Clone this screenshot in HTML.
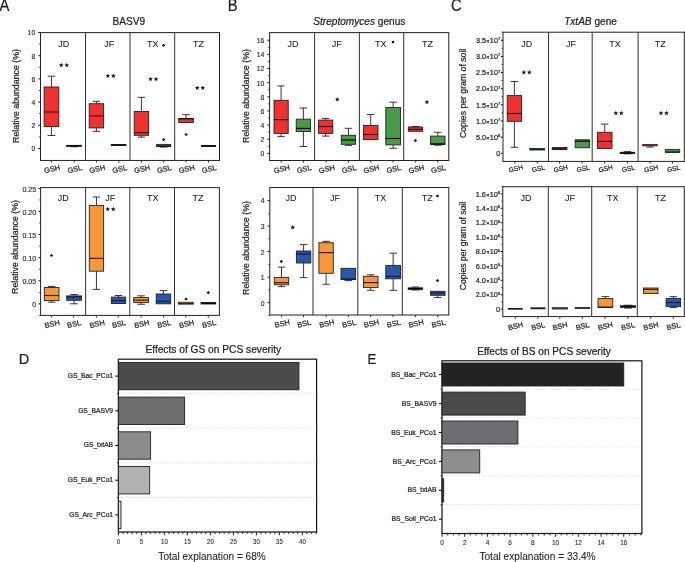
<!DOCTYPE html><html><head><meta charset="utf-8"><style>html,body{margin:0;padding:0;background:#fff}svg{display:block;will-change:transform}</style></head><body><svg width="685" height="562" viewBox="0 0 685 562">
<style>text{font-family:"Liberation Sans",sans-serif;fill:#222;stroke:#222;stroke-width:0.22}.w{stroke:#222;stroke-width:0.9}.b{stroke:#222;stroke-width:0.9}.m{stroke-width:1.15}.st{fill:#222}.fl{stroke-width:0.05;fill:#1a1a1a}.lt{stroke-width:0.08;fill:#1e1e1e}.tk{stroke-width:0.12}</style>
<rect width="685" height="562" fill="#fff"/>
<text x="0" y="0" font-size="16.5" transform="translate(-0.5,10.8) scale(0.9,1)">A</text>
<text x="0" y="0" font-size="16.5" transform="translate(227.8,10.8) scale(0.9,1)">B</text>
<text x="0" y="0" font-size="16.5" transform="translate(450.9,10.8) scale(0.9,1)">C</text>
<text x="0" y="0" font-size="14.7" transform="translate(18.8,364.0) scale(0.99,1)">D</text>
<text x="0" y="0" font-size="14.7" transform="translate(367.6,364.1) scale(0.905,1)">E</text>
<text x="128.8" y="25.2" font-size="10.1" text-anchor="middle" >BASV9</text>
<text x="359.3" y="25.2" font-size="10.1" text-anchor="middle"><tspan font-style="italic">Streptomyces</tspan> genus</text>
<text x="590.5" y="25.2" font-size="10.1" text-anchor="middle"><tspan font-style="italic">TxtAB</tspan> gene</text>
<rect x="40.5" y="32.6" width="179.0" height="127.85" fill="none" stroke="#222" stroke-width="1"/>
<line x1="85.5" y1="32.6" x2="85.5" y2="160.45" stroke="#333" stroke-width="1"/>
<line x1="130.0" y1="32.6" x2="130.0" y2="160.45" stroke="#333" stroke-width="1"/>
<line x1="174.7" y1="32.6" x2="174.7" y2="160.45" stroke="#333" stroke-width="1"/>
<line x1="38.3" y1="148.5" x2="40.5" y2="148.5" stroke="#1a1a1a" stroke-width="1"/>
<text x="0" y="0" font-size="7.7" text-anchor="end" class="tk" transform="translate(35.20,151.45) scale(0.89,1)">0</text>
<line x1="38.3" y1="125.3" x2="40.5" y2="125.3" stroke="#1a1a1a" stroke-width="1"/>
<text x="0" y="0" font-size="7.7" text-anchor="end" class="tk" transform="translate(35.20,128.25) scale(0.89,1)">2</text>
<line x1="38.3" y1="102.1" x2="40.5" y2="102.1" stroke="#1a1a1a" stroke-width="1"/>
<text x="0" y="0" font-size="7.7" text-anchor="end" class="tk" transform="translate(35.20,105.05) scale(0.89,1)">4</text>
<line x1="38.3" y1="78.9" x2="40.5" y2="78.9" stroke="#1a1a1a" stroke-width="1"/>
<text x="0" y="0" font-size="7.7" text-anchor="end" class="tk" transform="translate(35.20,81.85) scale(0.89,1)">6</text>
<line x1="38.3" y1="55.7" x2="40.5" y2="55.7" stroke="#1a1a1a" stroke-width="1"/>
<text x="0" y="0" font-size="7.7" text-anchor="end" class="tk" transform="translate(35.20,58.65) scale(0.89,1)">8</text>
<line x1="38.3" y1="32.5" x2="40.5" y2="32.5" stroke="#1a1a1a" stroke-width="1"/>
<text x="0" y="0" font-size="7.7" text-anchor="end" class="tk" transform="translate(35.20,35.45) scale(0.89,1)">10</text>
<line x1="39.1" y1="136.9" x2="40.5" y2="136.9" stroke="#222" stroke-width="0.9"/>
<line x1="39.1" y1="113.7" x2="40.5" y2="113.7" stroke="#222" stroke-width="0.9"/>
<line x1="39.1" y1="90.5" x2="40.5" y2="90.5" stroke="#222" stroke-width="0.9"/>
<line x1="39.1" y1="67.3" x2="40.5" y2="67.3" stroke="#222" stroke-width="0.9"/>
<line x1="39.1" y1="44.10000000000001" x2="40.5" y2="44.10000000000001" stroke="#222" stroke-width="0.9"/>
<text x="0" y="0" font-size="8.8" text-anchor="middle" transform="translate(18.7,96) rotate(-90)">Relative abundance (%)</text>
<line x1="51.4" y1="160.45" x2="51.4" y2="162.64999999999998" stroke="#222" stroke-width="0.9"/>
<text x="0" y="0" font-size="7.45" text-anchor="middle" transform="translate(52.699999999999996,171.54999999999998) rotate(-13)">GSH</text>
<line x1="74.1" y1="160.45" x2="74.1" y2="162.64999999999998" stroke="#222" stroke-width="0.9"/>
<text x="0" y="0" font-size="7.45" text-anchor="middle" transform="translate(75.39999999999999,171.54999999999998) rotate(-13)">GSL</text>
<line x1="96.5" y1="160.45" x2="96.5" y2="162.64999999999998" stroke="#222" stroke-width="0.9"/>
<text x="0" y="0" font-size="7.45" text-anchor="middle" transform="translate(97.8,171.54999999999998) rotate(-13)">GSH</text>
<line x1="118.9" y1="160.45" x2="118.9" y2="162.64999999999998" stroke="#222" stroke-width="0.9"/>
<text x="0" y="0" font-size="7.45" text-anchor="middle" transform="translate(120.2,171.54999999999998) rotate(-13)">GSL</text>
<line x1="141.4" y1="160.45" x2="141.4" y2="162.64999999999998" stroke="#222" stroke-width="0.9"/>
<text x="0" y="0" font-size="7.45" text-anchor="middle" transform="translate(142.70000000000002,171.54999999999998) rotate(-13)">GSH</text>
<line x1="163.6" y1="160.45" x2="163.6" y2="162.64999999999998" stroke="#222" stroke-width="0.9"/>
<text x="0" y="0" font-size="7.45" text-anchor="middle" transform="translate(164.9,171.54999999999998) rotate(-13)">GSL</text>
<line x1="186" y1="160.45" x2="186" y2="162.64999999999998" stroke="#222" stroke-width="0.9"/>
<text x="0" y="0" font-size="7.45" text-anchor="middle" transform="translate(187.3,171.54999999999998) rotate(-13)">GSH</text>
<line x1="208.5" y1="160.45" x2="208.5" y2="162.64999999999998" stroke="#222" stroke-width="0.9"/>
<text x="0" y="0" font-size="7.45" text-anchor="middle" transform="translate(209.8,171.54999999999998) rotate(-13)">GSL</text>
<text x="63.8" y="46.8" font-size="9.0" text-anchor="middle" class="fl">JD</text>
<text x="109.2" y="46.8" font-size="9.0" text-anchor="middle" class="fl">JF</text>
<text x="152.8" y="46.8" font-size="9.0" text-anchor="middle" class="fl">TX</text>
<text x="198.5" y="46.8" font-size="9.0" text-anchor="middle" class="fl">TZ</text>
<line x1="51.45" y1="76.2" x2="51.45" y2="87.0" class="w"/>
<line x1="47.63" y1="76.2" x2="55.27" y2="76.2" class="w"/>
<line x1="51.45" y1="126.5" x2="51.45" y2="135.5" class="w"/>
<line x1="47.63" y1="135.5" x2="55.27" y2="135.5" class="w"/>
<rect x="44.1" y="87.0" width="14.70" height="39.50" fill="#EE3131" class="b"/>
<line x1="44.1" y1="112.0" x2="58.8" y2="112.0" stroke="#5a0e0e" class="m"/>
<line x1="74.00" y1="146.2" x2="74.00" y2="146.8" class="w"/>
<line x1="70.10" y1="146.8" x2="77.90" y2="146.8" class="w"/>
<rect x="66.5" y="145.4" width="15.00" height="0.80" fill="#4A9A4A" class="b"/>
<line x1="66.5" y1="145.8" x2="81.5" y2="145.8" stroke="#000" class="m"/>
<line x1="96.40" y1="101.3" x2="96.40" y2="103.7" class="w"/>
<line x1="92.66" y1="101.3" x2="100.14" y2="101.3" class="w"/>
<line x1="96.40" y1="127.9" x2="96.40" y2="131.4" class="w"/>
<line x1="92.66" y1="131.4" x2="100.14" y2="131.4" class="w"/>
<rect x="89.2" y="103.7" width="14.40" height="24.20" fill="#EE3131" class="b"/>
<line x1="89.2" y1="115.9" x2="103.6" y2="115.9" stroke="#5a0e0e" class="m"/>
<rect x="111.3" y="144.6" width="14.70" height="0.90" fill="#4A9A4A" class="b"/>
<line x1="111.3" y1="145.0" x2="126.0" y2="145.0" stroke="#000" class="m"/>
<line x1="141.40" y1="97.3" x2="141.40" y2="111.5" class="w"/>
<line x1="137.66" y1="97.3" x2="145.14" y2="97.3" class="w"/>
<line x1="141.40" y1="135.3" x2="141.40" y2="137.1" class="w"/>
<line x1="137.66" y1="137.1" x2="145.14" y2="137.1" class="w"/>
<rect x="134.2" y="111.5" width="14.40" height="23.80" fill="#EE3131" class="b"/>
<line x1="134.2" y1="132.6" x2="148.6" y2="132.6" stroke="#2a0505" class="m"/>
<line x1="163.65" y1="146.3" x2="163.65" y2="147.1" class="w"/>
<line x1="159.98" y1="147.1" x2="167.32" y2="147.1" class="w"/>
<rect x="156.6" y="144.4" width="14.10" height="1.90" fill="#4A9A4A" class="b"/>
<line x1="156.6" y1="146.1" x2="170.7" y2="146.1" stroke="#000" class="m"/>
<path d="M161.90,45.3L163.6,43.70L165.30,45.3L163.6,46.90Z" fill="#111"/>
<path d="M161.90,139.6L163.6,138.00L165.30,139.6L163.6,141.20Z" fill="#111"/>
<line x1="186.05" y1="114.7" x2="186.05" y2="118.6" class="w"/>
<line x1="182.23" y1="114.7" x2="189.87" y2="114.7" class="w"/>
<rect x="178.7" y="118.6" width="14.70" height="3.90" fill="#EE3131" class="b"/>
<line x1="178.7" y1="118.8" x2="193.4" y2="118.8" stroke="#2a0505" class="m"/>
<path d="M184.40,134.5L186.1,132.90L187.80,134.5L186.1,136.10Z" fill="#111"/>
<rect x="201.4" y="145.5" width="14.20" height="0.90" fill="#4A9A4A" class="b"/>
<line x1="201.4" y1="146.0" x2="215.6" y2="146.0" stroke="#000" class="m"/>
<polygon points="61.25,62.75 61.91,64.29 63.58,64.44 62.32,65.55 62.69,67.18 61.25,66.33 59.81,67.18 60.18,65.55 58.92,64.44 60.59,64.29" fill="#1a1a1a"/>
<polygon points="66.75,62.75 67.41,64.29 69.08,64.44 67.82,65.55 68.19,67.18 66.75,66.33 65.31,67.18 65.68,65.55 64.42,64.44 66.09,64.29" fill="#1a1a1a"/>
<polygon points="107.85,73.45 108.51,74.99 110.18,75.14 108.92,76.25 109.29,77.88 107.85,77.03 106.41,77.88 106.78,76.25 105.52,75.14 107.19,74.99" fill="#1a1a1a"/>
<polygon points="113.35,73.45 114.01,74.99 115.68,75.14 114.42,76.25 114.79,77.88 113.35,77.03 111.91,77.88 112.28,76.25 111.02,75.14 112.69,74.99" fill="#1a1a1a"/>
<polygon points="150.55,76.65 151.21,78.19 152.88,78.34 151.62,79.45 151.99,81.08 150.55,80.23 149.11,81.08 149.48,79.45 148.22,78.34 149.89,78.19" fill="#1a1a1a"/>
<polygon points="156.05,76.65 156.71,78.19 158.38,78.34 157.12,79.45 157.49,81.08 156.05,80.23 154.61,81.08 154.98,79.45 153.72,78.34 155.39,78.19" fill="#1a1a1a"/>
<polygon points="197.25,85.45 197.91,86.99 199.58,87.14 198.32,88.25 198.69,89.88 197.25,89.03 195.81,89.88 196.18,88.25 194.92,87.14 196.59,86.99" fill="#1a1a1a"/>
<polygon points="202.75,85.45 203.41,86.99 205.08,87.14 203.82,88.25 204.19,89.88 202.75,89.03 201.31,89.88 201.68,88.25 200.42,87.14 202.09,86.99" fill="#1a1a1a"/>
<rect x="269.6" y="32.6" width="179.2" height="127.9" fill="none" stroke="#222" stroke-width="1"/>
<line x1="314.6" y1="32.6" x2="314.6" y2="160.5" stroke="#333" stroke-width="1"/>
<line x1="359.4" y1="32.6" x2="359.4" y2="160.5" stroke="#333" stroke-width="1"/>
<line x1="403.7" y1="32.6" x2="403.7" y2="160.5" stroke="#333" stroke-width="1"/>
<line x1="267.40000000000003" y1="153.4" x2="269.6" y2="153.4" stroke="#1a1a1a" stroke-width="1"/>
<text x="0" y="0" font-size="7.7" text-anchor="end" class="tk" transform="translate(264.30,156.35) scale(0.89,1)">0</text>
<line x1="267.40000000000003" y1="139.25" x2="269.6" y2="139.25" stroke="#1a1a1a" stroke-width="1"/>
<text x="0" y="0" font-size="7.7" text-anchor="end" class="tk" transform="translate(264.30,142.20) scale(0.89,1)">2</text>
<line x1="267.40000000000003" y1="125.10000000000001" x2="269.6" y2="125.10000000000001" stroke="#1a1a1a" stroke-width="1"/>
<text x="0" y="0" font-size="7.7" text-anchor="end" class="tk" transform="translate(264.30,128.05) scale(0.89,1)">4</text>
<line x1="267.40000000000003" y1="110.95" x2="269.6" y2="110.95" stroke="#1a1a1a" stroke-width="1"/>
<text x="0" y="0" font-size="7.7" text-anchor="end" class="tk" transform="translate(264.30,113.90) scale(0.89,1)">6</text>
<line x1="267.40000000000003" y1="96.80000000000001" x2="269.6" y2="96.80000000000001" stroke="#1a1a1a" stroke-width="1"/>
<text x="0" y="0" font-size="7.7" text-anchor="end" class="tk" transform="translate(264.30,99.75) scale(0.89,1)">8</text>
<line x1="267.40000000000003" y1="82.65" x2="269.6" y2="82.65" stroke="#1a1a1a" stroke-width="1"/>
<text x="0" y="0" font-size="7.7" text-anchor="end" class="tk" transform="translate(264.30,85.60) scale(0.89,1)">10</text>
<line x1="267.40000000000003" y1="68.5" x2="269.6" y2="68.5" stroke="#1a1a1a" stroke-width="1"/>
<text x="0" y="0" font-size="7.7" text-anchor="end" class="tk" transform="translate(264.30,71.45) scale(0.89,1)">12</text>
<line x1="267.40000000000003" y1="54.35000000000001" x2="269.6" y2="54.35000000000001" stroke="#1a1a1a" stroke-width="1"/>
<text x="0" y="0" font-size="7.7" text-anchor="end" class="tk" transform="translate(264.30,57.30) scale(0.89,1)">14</text>
<line x1="267.40000000000003" y1="40.2" x2="269.6" y2="40.2" stroke="#1a1a1a" stroke-width="1"/>
<text x="0" y="0" font-size="7.7" text-anchor="end" class="tk" transform="translate(264.30,43.15) scale(0.89,1)">16</text>
<line x1="268.20000000000005" y1="146.32500000000002" x2="269.6" y2="146.32500000000002" stroke="#222" stroke-width="0.9"/>
<line x1="268.20000000000005" y1="132.175" x2="269.6" y2="132.175" stroke="#222" stroke-width="0.9"/>
<line x1="268.20000000000005" y1="118.025" x2="269.6" y2="118.025" stroke="#222" stroke-width="0.9"/>
<line x1="268.20000000000005" y1="103.875" x2="269.6" y2="103.875" stroke="#222" stroke-width="0.9"/>
<line x1="268.20000000000005" y1="89.725" x2="269.6" y2="89.725" stroke="#222" stroke-width="0.9"/>
<line x1="268.20000000000005" y1="75.575" x2="269.6" y2="75.575" stroke="#222" stroke-width="0.9"/>
<line x1="268.20000000000005" y1="61.425" x2="269.6" y2="61.425" stroke="#222" stroke-width="0.9"/>
<line x1="268.20000000000005" y1="47.275000000000006" x2="269.6" y2="47.275000000000006" stroke="#222" stroke-width="0.9"/>
<text x="0" y="0" font-size="8.8" text-anchor="middle" transform="translate(248.9,96) rotate(-90)">Relative abundance (%)</text>
<line x1="281.1" y1="160.5" x2="281.1" y2="162.7" stroke="#222" stroke-width="0.9"/>
<text x="0" y="0" font-size="7.45" text-anchor="middle" transform="translate(282.40000000000003,171.6) rotate(-13)">GSH</text>
<line x1="303.4" y1="160.5" x2="303.4" y2="162.7" stroke="#222" stroke-width="0.9"/>
<text x="0" y="0" font-size="7.45" text-anchor="middle" transform="translate(304.7,171.6) rotate(-13)">GSL</text>
<line x1="326.1" y1="160.5" x2="326.1" y2="162.7" stroke="#222" stroke-width="0.9"/>
<text x="0" y="0" font-size="7.45" text-anchor="middle" transform="translate(327.40000000000003,171.6) rotate(-13)">GSH</text>
<line x1="348.4" y1="160.5" x2="348.4" y2="162.7" stroke="#222" stroke-width="0.9"/>
<text x="0" y="0" font-size="7.45" text-anchor="middle" transform="translate(349.7,171.6) rotate(-13)">GSL</text>
<line x1="370.7" y1="160.5" x2="370.7" y2="162.7" stroke="#222" stroke-width="0.9"/>
<text x="0" y="0" font-size="7.45" text-anchor="middle" transform="translate(372.0,171.6) rotate(-13)">GSH</text>
<line x1="393.1" y1="160.5" x2="393.1" y2="162.7" stroke="#222" stroke-width="0.9"/>
<text x="0" y="0" font-size="7.45" text-anchor="middle" transform="translate(394.40000000000003,171.6) rotate(-13)">GSL</text>
<line x1="415.7" y1="160.5" x2="415.7" y2="162.7" stroke="#222" stroke-width="0.9"/>
<text x="0" y="0" font-size="7.45" text-anchor="middle" transform="translate(417.0,171.6) rotate(-13)">GSH</text>
<line x1="437.8" y1="160.5" x2="437.8" y2="162.7" stroke="#222" stroke-width="0.9"/>
<text x="0" y="0" font-size="7.45" text-anchor="middle" transform="translate(439.1,171.6) rotate(-13)">GSL</text>
<text x="293" y="46.8" font-size="9.0" text-anchor="middle" class="fl">JD</text>
<text x="336.8" y="46.8" font-size="9.0" text-anchor="middle" class="fl">JF</text>
<text x="380.7" y="46.8" font-size="9.0" text-anchor="middle" class="fl">TX</text>
<text x="427.4" y="46.8" font-size="9.0" text-anchor="middle" class="fl">TZ</text>
<line x1="281.10" y1="85.9" x2="281.10" y2="100.3" class="w"/>
<line x1="277.41" y1="85.9" x2="284.79" y2="85.9" class="w"/>
<line x1="281.10" y1="133.4" x2="281.10" y2="136.6" class="w"/>
<line x1="277.41" y1="136.6" x2="284.79" y2="136.6" class="w"/>
<rect x="274" y="100.3" width="14.20" height="33.10" fill="#EE3131" class="b"/>
<line x1="274" y1="119.6" x2="288.2" y2="119.6" stroke="#1a0505" class="m"/>
<line x1="303.40" y1="108" x2="303.40" y2="119.2" class="w"/>
<line x1="299.66" y1="108" x2="307.14" y2="108" class="w"/>
<line x1="303.40" y1="131.5" x2="303.40" y2="146.5" class="w"/>
<line x1="299.66" y1="146.5" x2="307.14" y2="146.5" class="w"/>
<rect x="296.2" y="119.2" width="14.40" height="12.30" fill="#4A9A4A" class="b"/>
<line x1="296.2" y1="128.4" x2="310.6" y2="128.4" stroke="#000" class="m"/>
<line x1="325.70" y1="118.4" x2="325.70" y2="120.1" class="w"/>
<line x1="322.01" y1="118.4" x2="329.39" y2="118.4" class="w"/>
<line x1="325.70" y1="133.4" x2="325.70" y2="136.1" class="w"/>
<line x1="322.01" y1="136.1" x2="329.39" y2="136.1" class="w"/>
<rect x="318.6" y="120.1" width="14.20" height="13.30" fill="#EE3131" class="b"/>
<line x1="318.6" y1="126.5" x2="332.8" y2="126.5" stroke="#1a0505" class="m"/>
<line x1="348.40" y1="128.3" x2="348.40" y2="135.3" class="w"/>
<line x1="344.71" y1="128.3" x2="352.09" y2="128.3" class="w"/>
<line x1="348.40" y1="144.3" x2="348.40" y2="145.4" class="w"/>
<line x1="344.71" y1="145.4" x2="352.09" y2="145.4" class="w"/>
<rect x="341.3" y="135.3" width="14.20" height="9.00" fill="#4A9A4A" class="b"/>
<line x1="341.3" y1="140" x2="355.5" y2="140" stroke="#000" class="m"/>
<line x1="370.70" y1="114.5" x2="370.70" y2="125.4" class="w"/>
<line x1="366.90" y1="114.5" x2="374.50" y2="114.5" class="w"/>
<rect x="363.4" y="125.4" width="14.60" height="14.20" fill="#EE3131" class="b"/>
<line x1="363.4" y1="134.5" x2="378" y2="134.5" stroke="#1a0505" class="m"/>
<line x1="393.15" y1="102.2" x2="393.15" y2="107.5" class="w"/>
<line x1="389.33" y1="102.2" x2="396.97" y2="102.2" class="w"/>
<line x1="393.15" y1="144.9" x2="393.15" y2="148.3" class="w"/>
<line x1="389.33" y1="148.3" x2="396.97" y2="148.3" class="w"/>
<rect x="385.8" y="107.5" width="14.70" height="37.40" fill="#4A9A4A" class="b"/>
<line x1="385.8" y1="138.5" x2="400.5" y2="138.5" stroke="#000" class="m"/>
<circle cx="393.0" cy="42.0" r="1.3" fill="#000"/>
<line x1="415.50" y1="126.5" x2="415.50" y2="127" class="w"/>
<line x1="411.76" y1="126.5" x2="419.24" y2="126.5" class="w"/>
<rect x="408.3" y="127" width="14.40" height="4.30" fill="#EE3131" class="b"/>
<line x1="408.3" y1="129.3" x2="422.7" y2="129.3" stroke="#3a0a0a" class="m"/>
<path d="M413.70,140.6L415.4,139.00L417.10,140.6L415.4,142.20Z" fill="#111"/>
<line x1="437.80" y1="132.3" x2="437.80" y2="136.1" class="w"/>
<line x1="434.06" y1="132.3" x2="441.54" y2="132.3" class="w"/>
<line x1="437.80" y1="144.4" x2="437.80" y2="145.2" class="w"/>
<line x1="434.06" y1="145.2" x2="441.54" y2="145.2" class="w"/>
<rect x="430.6" y="136.1" width="14.40" height="8.30" fill="#4A9A4A" class="b"/>
<line x1="430.6" y1="143.9" x2="445" y2="143.9" stroke="#000" class="m"/>
<polygon points="337.30,96.95 337.96,98.49 339.63,98.64 338.37,99.75 338.74,101.38 337.30,100.53 335.86,101.38 336.23,99.75 334.97,98.64 336.64,98.49" fill="#1a1a1a"/>
<polygon points="426.90,99.65 427.56,101.19 429.23,101.34 427.97,102.45 428.34,104.08 426.90,103.23 425.46,104.08 425.83,102.45 424.57,101.34 426.24,101.19" fill="#1a1a1a"/>
<rect x="503" y="32.2" width="181.29999999999995" height="129.2" fill="none" stroke="#222" stroke-width="1"/>
<line x1="548.5" y1="32.2" x2="548.5" y2="161.4" stroke="#333" stroke-width="1"/>
<line x1="592.2" y1="32.2" x2="592.2" y2="161.4" stroke="#333" stroke-width="1"/>
<line x1="638.1" y1="32.2" x2="638.1" y2="161.4" stroke="#333" stroke-width="1"/>
<line x1="500.8" y1="153.3" x2="503" y2="153.3" stroke="#1a1a1a" stroke-width="1"/>
<text x="500.3" y="156.0" font-size="7.3" text-anchor="end">0</text>
<line x1="500.8" y1="137.15" x2="503" y2="137.15" stroke="#1a1a1a" stroke-width="1"/>
<text x="500.3" y="139.85" font-size="7.3" text-anchor="end">5.0<tspan font-size="5.6" dx="0.2">×</tspan><tspan dx="0.2">10</tspan><tspan font-size="4.2" dy="-2.7">6</tspan></text>
<line x1="500.8" y1="121.00000000000001" x2="503" y2="121.00000000000001" stroke="#1a1a1a" stroke-width="1"/>
<text x="500.3" y="123.70000000000002" font-size="7.3" text-anchor="end">1.0<tspan font-size="5.6" dx="0.2">×</tspan><tspan dx="0.2">10</tspan><tspan font-size="4.2" dy="-2.7">7</tspan></text>
<line x1="500.8" y1="104.85000000000002" x2="503" y2="104.85000000000002" stroke="#1a1a1a" stroke-width="1"/>
<text x="500.3" y="107.55000000000003" font-size="7.3" text-anchor="end">1.5<tspan font-size="5.6" dx="0.2">×</tspan><tspan dx="0.2">10</tspan><tspan font-size="4.2" dy="-2.7">7</tspan></text>
<line x1="500.8" y1="88.70000000000002" x2="503" y2="88.70000000000002" stroke="#1a1a1a" stroke-width="1"/>
<text x="500.3" y="91.40000000000002" font-size="7.3" text-anchor="end">2.0<tspan font-size="5.6" dx="0.2">×</tspan><tspan dx="0.2">10</tspan><tspan font-size="4.2" dy="-2.7">7</tspan></text>
<line x1="500.8" y1="72.55000000000001" x2="503" y2="72.55000000000001" stroke="#1a1a1a" stroke-width="1"/>
<text x="500.3" y="75.25000000000001" font-size="7.3" text-anchor="end">2.5<tspan font-size="5.6" dx="0.2">×</tspan><tspan dx="0.2">10</tspan><tspan font-size="4.2" dy="-2.7">7</tspan></text>
<line x1="500.8" y1="56.40000000000002" x2="503" y2="56.40000000000002" stroke="#1a1a1a" stroke-width="1"/>
<text x="500.3" y="59.10000000000002" font-size="7.3" text-anchor="end">3.0<tspan font-size="5.6" dx="0.2">×</tspan><tspan dx="0.2">10</tspan><tspan font-size="4.2" dy="-2.7">7</tspan></text>
<line x1="500.8" y1="40.25000000000003" x2="503" y2="40.25000000000003" stroke="#1a1a1a" stroke-width="1"/>
<text x="500.3" y="42.95000000000003" font-size="7.3" text-anchor="end">3.5<tspan font-size="5.6" dx="0.2">×</tspan><tspan dx="0.2">10</tspan><tspan font-size="4.2" dy="-2.7">7</tspan></text>
<line x1="501.6" y1="129.08" x2="503" y2="129.08" stroke="#222" stroke-width="0.9"/>
<line x1="501.6" y1="112.93" x2="503" y2="112.93" stroke="#222" stroke-width="0.9"/>
<line x1="501.6" y1="96.78000000000003" x2="503" y2="96.78000000000003" stroke="#222" stroke-width="0.9"/>
<line x1="501.6" y1="80.63000000000002" x2="503" y2="80.63000000000002" stroke="#222" stroke-width="0.9"/>
<line x1="501.6" y1="64.48000000000002" x2="503" y2="64.48000000000002" stroke="#222" stroke-width="0.9"/>
<line x1="501.6" y1="48.33000000000002" x2="503" y2="48.33000000000002" stroke="#222" stroke-width="0.9"/>
<line x1="501.6" y1="32.18000000000003" x2="503" y2="32.18000000000003" stroke="#222" stroke-width="0.9"/>
<text x="0" y="0" font-size="8.7" text-anchor="middle" transform="translate(466.4,93.4) rotate(-90)">Copies per gram of soil</text>
<line x1="514.7" y1="161.4" x2="514.7" y2="163.6" stroke="#222" stroke-width="0.9"/>
<text x="0" y="0" font-size="6.6" text-anchor="middle" transform="translate(516.3000000000001,170.8) rotate(-13)">GSH</text>
<line x1="537.3" y1="161.4" x2="537.3" y2="163.6" stroke="#222" stroke-width="0.9"/>
<text x="0" y="0" font-size="6.6" text-anchor="middle" transform="translate(538.9,170.8) rotate(-13)">GSL</text>
<line x1="559.5" y1="161.4" x2="559.5" y2="163.6" stroke="#222" stroke-width="0.9"/>
<text x="0" y="0" font-size="6.6" text-anchor="middle" transform="translate(561.1,170.8) rotate(-13)">GSH</text>
<line x1="582.1" y1="161.4" x2="582.1" y2="163.6" stroke="#222" stroke-width="0.9"/>
<text x="0" y="0" font-size="6.6" text-anchor="middle" transform="translate(583.7,170.8) rotate(-13)">GSL</text>
<line x1="604.6" y1="161.4" x2="604.6" y2="163.6" stroke="#222" stroke-width="0.9"/>
<text x="0" y="0" font-size="6.6" text-anchor="middle" transform="translate(606.2,170.8) rotate(-13)">GSH</text>
<line x1="627.4" y1="161.4" x2="627.4" y2="163.6" stroke="#222" stroke-width="0.9"/>
<text x="0" y="0" font-size="6.6" text-anchor="middle" transform="translate(629.0,170.8) rotate(-13)">GSL</text>
<line x1="650" y1="161.4" x2="650" y2="163.6" stroke="#222" stroke-width="0.9"/>
<text x="0" y="0" font-size="6.6" text-anchor="middle" transform="translate(651.6,170.8) rotate(-13)">GSH</text>
<line x1="672.5" y1="161.4" x2="672.5" y2="163.6" stroke="#222" stroke-width="0.9"/>
<text x="0" y="0" font-size="6.6" text-anchor="middle" transform="translate(674.1,170.8) rotate(-13)">GSL</text>
<text x="526.8" y="46.8" font-size="9.0" text-anchor="middle" class="fl">JD</text>
<text x="570.9" y="46.8" font-size="9.0" text-anchor="middle" class="fl">JF</text>
<text x="614.9" y="46.8" font-size="9.0" text-anchor="middle" class="fl">TX</text>
<text x="660.2" y="46.8" font-size="9.0" text-anchor="middle" class="fl">TZ</text>
<line x1="514.40" y1="81.5" x2="514.40" y2="95.4" class="w"/>
<line x1="510.66" y1="81.5" x2="518.14" y2="81.5" class="w"/>
<line x1="514.40" y1="121.3" x2="514.40" y2="147.3" class="w"/>
<line x1="510.66" y1="147.3" x2="518.14" y2="147.3" class="w"/>
<rect x="507.2" y="95.4" width="14.40" height="25.90" fill="#EE3131" class="b"/>
<line x1="507.2" y1="113.5" x2="521.6" y2="113.5" stroke="#1a0505" class="m"/>
<rect x="529.8" y="148.6" width="14.80" height="1.40" fill="#4A9A4A" class="b"/>
<line x1="529.8" y1="149.3" x2="544.6" y2="149.3" stroke="#0a300a" class="m"/>
<rect x="552.3" y="147.5" width="14.60" height="2.00" fill="#EE3131" class="b"/>
<line x1="552.3" y1="148.9" x2="566.9" y2="148.9" stroke="#2a0505" class="m"/>
<rect x="575.2" y="139.8" width="14.40" height="8.00" fill="#4A9A4A" class="b"/>
<line x1="575.2" y1="141.2" x2="589.6" y2="141.2" stroke="#000" class="m"/>
<line x1="604.70" y1="124.1" x2="604.70" y2="132.3" class="w"/>
<line x1="600.90" y1="124.1" x2="608.50" y2="124.1" class="w"/>
<rect x="597.4" y="132.3" width="14.60" height="16.10" fill="#EE3131" class="b"/>
<line x1="597.4" y1="141.4" x2="612.0" y2="141.4" stroke="#1a0505" class="m"/>
<line x1="627.40" y1="151.6" x2="627.40" y2="152.3" class="w"/>
<line x1="623.66" y1="151.6" x2="631.14" y2="151.6" class="w"/>
<line x1="627.40" y1="153.4" x2="627.40" y2="153.9" class="w"/>
<line x1="623.66" y1="153.9" x2="631.14" y2="153.9" class="w"/>
<rect x="620.2" y="152.3" width="14.40" height="1.10" fill="#4A9A4A" class="b"/>
<line x1="620.2" y1="152.9" x2="634.6" y2="152.9" stroke="#000" class="m"/>
<line x1="649.95" y1="145.8" x2="649.95" y2="147.1" class="w"/>
<line x1="646.13" y1="147.1" x2="653.77" y2="147.1" class="w"/>
<rect x="642.6" y="144.7" width="14.70" height="1.10" fill="#EE3131" class="b"/>
<line x1="642.6" y1="145.2" x2="657.3" y2="145.2" stroke="#6a1616" class="m"/>
<rect x="665.3" y="149.4" width="14.40" height="3.00" fill="#4A9A4A" class="b"/>
<line x1="665.3" y1="151.9" x2="679.7" y2="151.9" stroke="#0a300a" class="m"/>
<polygon points="523.85,69.95 524.51,71.49 526.18,71.64 524.92,72.75 525.29,74.38 523.85,73.53 522.41,74.38 522.78,72.75 521.52,71.64 523.19,71.49" fill="#1a1a1a"/>
<polygon points="529.35,69.95 530.01,71.49 531.68,71.64 530.42,72.75 530.79,74.38 529.35,73.53 527.91,74.38 528.28,72.75 527.02,71.64 528.69,71.49" fill="#1a1a1a"/>
<polygon points="615.85,110.75 616.51,112.29 618.18,112.44 616.92,113.55 617.29,115.18 615.85,114.33 614.41,115.18 614.78,113.55 613.52,112.44 615.19,112.29" fill="#1a1a1a"/>
<polygon points="621.35,110.75 622.01,112.29 623.68,112.44 622.42,113.55 622.79,115.18 621.35,114.33 619.91,115.18 620.28,113.55 619.02,112.44 620.69,112.29" fill="#1a1a1a"/>
<polygon points="660.95,110.75 661.61,112.29 663.28,112.44 662.02,113.55 662.39,115.18 660.95,114.33 659.51,115.18 659.88,113.55 658.62,112.44 660.29,112.29" fill="#1a1a1a"/>
<polygon points="666.45,110.75 667.11,112.29 668.78,112.44 667.52,113.55 667.89,115.18 666.45,114.33 665.01,115.18 665.38,113.55 664.12,112.44 665.79,112.29" fill="#1a1a1a"/>
<rect x="40.6" y="187.6" width="178.8" height="127.79999999999998" fill="none" stroke="#222" stroke-width="1"/>
<line x1="85.6" y1="187.6" x2="85.6" y2="315.4" stroke="#333" stroke-width="1"/>
<line x1="129.8" y1="187.6" x2="129.8" y2="315.4" stroke="#333" stroke-width="1"/>
<line x1="174.5" y1="187.6" x2="174.5" y2="315.4" stroke="#333" stroke-width="1"/>
<line x1="38.4" y1="303.9" x2="40.6" y2="303.9" stroke="#1a1a1a" stroke-width="1"/>
<text x="0" y="0" font-size="7.7" text-anchor="end" class="tk" transform="translate(36.30,307.20) scale(0.93,1)">0</text>
<line x1="38.4" y1="280.79999999999995" x2="40.6" y2="280.79999999999995" stroke="#1a1a1a" stroke-width="1"/>
<text x="0" y="0" font-size="7.7" text-anchor="end" class="tk" transform="translate(36.30,284.10) scale(0.93,1)">0.05</text>
<line x1="38.4" y1="257.7" x2="40.6" y2="257.7" stroke="#1a1a1a" stroke-width="1"/>
<text x="0" y="0" font-size="7.7" text-anchor="end" class="tk" transform="translate(36.30,261.00) scale(0.93,1)">0.10</text>
<line x1="38.4" y1="234.59999999999997" x2="40.6" y2="234.59999999999997" stroke="#1a1a1a" stroke-width="1"/>
<text x="0" y="0" font-size="7.7" text-anchor="end" class="tk" transform="translate(36.30,237.90) scale(0.93,1)">0.15</text>
<line x1="38.4" y1="211.49999999999997" x2="40.6" y2="211.49999999999997" stroke="#1a1a1a" stroke-width="1"/>
<text x="0" y="0" font-size="7.7" text-anchor="end" class="tk" transform="translate(36.30,214.80) scale(0.93,1)">0.20</text>
<line x1="38.4" y1="188.39999999999998" x2="40.6" y2="188.39999999999998" stroke="#1a1a1a" stroke-width="1"/>
<text x="0" y="0" font-size="7.7" text-anchor="end" class="tk" transform="translate(36.30,191.70) scale(0.93,1)">0.25</text>
<line x1="39.2" y1="292.34999999999997" x2="40.6" y2="292.34999999999997" stroke="#222" stroke-width="0.9"/>
<line x1="39.2" y1="269.25" x2="40.6" y2="269.25" stroke="#222" stroke-width="0.9"/>
<line x1="39.2" y1="246.14999999999998" x2="40.6" y2="246.14999999999998" stroke="#222" stroke-width="0.9"/>
<line x1="39.2" y1="223.04999999999998" x2="40.6" y2="223.04999999999998" stroke="#222" stroke-width="0.9"/>
<line x1="39.2" y1="199.95" x2="40.6" y2="199.95" stroke="#222" stroke-width="0.9"/>
<line x1="39.2" y1="315.45" x2="40.6" y2="315.45" stroke="#222" stroke-width="0.9"/>
<text x="0" y="0" font-size="8.8" text-anchor="middle" transform="translate(17.9,247) rotate(-90)">Relative abundance (%)</text>
<line x1="51.4" y1="315.4" x2="51.4" y2="317.59999999999997" stroke="#222" stroke-width="0.9"/>
<text x="0" y="0" font-size="7.45" text-anchor="middle" transform="translate(52.699999999999996,326.5) rotate(-13)">BSH</text>
<line x1="73.4" y1="315.4" x2="73.4" y2="317.59999999999997" stroke="#222" stroke-width="0.9"/>
<text x="0" y="0" font-size="7.45" text-anchor="middle" transform="translate(74.7,326.5) rotate(-13)">BSL</text>
<line x1="96.4" y1="315.4" x2="96.4" y2="317.59999999999997" stroke="#222" stroke-width="0.9"/>
<text x="0" y="0" font-size="7.45" text-anchor="middle" transform="translate(97.7,326.5) rotate(-13)">BSH</text>
<line x1="118.2" y1="315.4" x2="118.2" y2="317.59999999999997" stroke="#222" stroke-width="0.9"/>
<text x="0" y="0" font-size="7.45" text-anchor="middle" transform="translate(119.5,326.5) rotate(-13)">BSL</text>
<line x1="141.1" y1="315.4" x2="141.1" y2="317.59999999999997" stroke="#222" stroke-width="0.9"/>
<text x="0" y="0" font-size="7.45" text-anchor="middle" transform="translate(142.4,326.5) rotate(-13)">BSH</text>
<line x1="163.5" y1="315.4" x2="163.5" y2="317.59999999999997" stroke="#222" stroke-width="0.9"/>
<text x="0" y="0" font-size="7.45" text-anchor="middle" transform="translate(164.8,326.5) rotate(-13)">BSL</text>
<line x1="185.8" y1="315.4" x2="185.8" y2="317.59999999999997" stroke="#222" stroke-width="0.9"/>
<text x="0" y="0" font-size="7.45" text-anchor="middle" transform="translate(187.10000000000002,326.5) rotate(-13)">BSH</text>
<line x1="208.3" y1="315.4" x2="208.3" y2="317.59999999999997" stroke="#222" stroke-width="0.9"/>
<text x="0" y="0" font-size="7.45" text-anchor="middle" transform="translate(209.60000000000002,326.5) rotate(-13)">BSL</text>
<text x="63.3" y="201.0" font-size="9.0" text-anchor="middle" class="fl">JD</text>
<text x="110.3" y="201.0" font-size="9.0" text-anchor="middle" class="fl">JF</text>
<text x="152.7" y="201.0" font-size="9.0" text-anchor="middle" class="fl">TX</text>
<text x="198" y="201.0" font-size="9.0" text-anchor="middle" class="fl">TZ</text>
<line x1="51.65" y1="286.4" x2="51.65" y2="287.5" class="w"/>
<line x1="47.83" y1="286.4" x2="55.47" y2="286.4" class="w"/>
<line x1="51.65" y1="300.6" x2="51.65" y2="302.2" class="w"/>
<line x1="47.83" y1="302.2" x2="55.47" y2="302.2" class="w"/>
<rect x="44.3" y="287.5" width="14.70" height="13.10" fill="#F7973A" class="b"/>
<line x1="44.3" y1="295.5" x2="59" y2="295.5" stroke="#3a2000" class="m"/>
<path d="M49.80,255.5L51.5,253.90L53.20,255.5L51.5,257.10Z" fill="#111"/>
<line x1="74.05" y1="294.5" x2="74.05" y2="295.9" class="w"/>
<line x1="70.23" y1="294.5" x2="77.87" y2="294.5" class="w"/>
<line x1="74.05" y1="300.3" x2="74.05" y2="303.8" class="w"/>
<line x1="70.23" y1="303.8" x2="77.87" y2="303.8" class="w"/>
<rect x="66.7" y="295.9" width="14.70" height="4.40" fill="#2856A8" class="b"/>
<line x1="66.7" y1="296.9" x2="81.4" y2="296.9" stroke="#0a1a40" class="m"/>
<line x1="96.45" y1="197" x2="96.45" y2="205.4" class="w"/>
<line x1="92.73" y1="197" x2="100.17" y2="197" class="w"/>
<line x1="96.45" y1="271.2" x2="96.45" y2="289.4" class="w"/>
<line x1="92.73" y1="289.4" x2="100.17" y2="289.4" class="w"/>
<rect x="89.3" y="205.4" width="14.30" height="65.80" fill="#F7973A" class="b"/>
<line x1="89.3" y1="258.3" x2="103.6" y2="258.3" stroke="#3a2000" class="m"/>
<line x1="118.50" y1="295.5" x2="118.50" y2="297.1" class="w"/>
<line x1="114.76" y1="295.5" x2="122.24" y2="295.5" class="w"/>
<rect x="111.3" y="297.1" width="14.40" height="6.40" fill="#2856A8" class="b"/>
<line x1="111.3" y1="300.6" x2="125.7" y2="300.6" stroke="#0a1a40" class="m"/>
<line x1="141.10" y1="295.8" x2="141.10" y2="297.6" class="w"/>
<line x1="137.25" y1="295.8" x2="144.95" y2="295.8" class="w"/>
<line x1="141.10" y1="302.6" x2="141.10" y2="304.3" class="w"/>
<line x1="137.25" y1="304.3" x2="144.95" y2="304.3" class="w"/>
<rect x="133.7" y="297.6" width="14.80" height="5.00" fill="#F7973A" class="b"/>
<line x1="133.7" y1="300.2" x2="148.5" y2="300.2" stroke="#3a2000" class="m"/>
<line x1="163.45" y1="290.6" x2="163.45" y2="294.0" class="w"/>
<line x1="159.68" y1="290.6" x2="167.22" y2="290.6" class="w"/>
<rect x="156.2" y="294.0" width="14.50" height="9.80" fill="#2856A8" class="b"/>
<line x1="156.2" y1="301.3" x2="170.7" y2="301.3" stroke="#0a1a40" class="m"/>
<rect x="178.4" y="302.3" width="14.90" height="1.70" fill="#F7973A" class="b"/>
<line x1="178.4" y1="303.7" x2="193.3" y2="303.7" stroke="#3a2000" class="m"/>
<path d="M184.30,299L186,297.40L187.70,299L186,300.60Z" fill="#111"/>
<rect x="201" y="302.5" width="14.70" height="1.50" fill="#2856A8" class="b"/>
<line x1="201" y1="303.3" x2="215.7" y2="303.3" stroke="#000" class="m"/>
<path d="M206.60,292.6L208.3,291.00L210.00,292.6L208.3,294.20Z" fill="#111"/>
<polygon points="107.75,206.75 108.41,208.29 110.08,208.44 108.82,209.55 109.19,211.18 107.75,210.33 106.31,211.18 106.68,209.55 105.42,208.44 107.09,208.29" fill="#1a1a1a"/>
<polygon points="113.25,206.75 113.91,208.29 115.58,208.44 114.32,209.55 114.69,211.18 113.25,210.33 111.81,211.18 112.18,209.55 110.92,208.44 112.59,208.29" fill="#1a1a1a"/>
<rect x="269.8" y="187.5" width="179.0" height="127.5" fill="none" stroke="#222" stroke-width="1"/>
<line x1="313.0" y1="187.5" x2="313.0" y2="315" stroke="#333" stroke-width="1"/>
<line x1="357.8" y1="187.5" x2="357.8" y2="315" stroke="#333" stroke-width="1"/>
<line x1="402.3" y1="187.5" x2="402.3" y2="315" stroke="#333" stroke-width="1"/>
<line x1="267.6" y1="302.7" x2="269.8" y2="302.7" stroke="#1a1a1a" stroke-width="1"/>
<text x="0" y="0" font-size="7.7" text-anchor="end" class="tk" transform="translate(264.50,305.65) scale(0.89,1)">0</text>
<line x1="267.6" y1="277.15" x2="269.8" y2="277.15" stroke="#1a1a1a" stroke-width="1"/>
<text x="0" y="0" font-size="7.7" text-anchor="end" class="tk" transform="translate(264.50,280.10) scale(0.89,1)">1</text>
<line x1="267.6" y1="251.6" x2="269.8" y2="251.6" stroke="#1a1a1a" stroke-width="1"/>
<text x="0" y="0" font-size="7.7" text-anchor="end" class="tk" transform="translate(264.50,254.55) scale(0.89,1)">2</text>
<line x1="267.6" y1="226.04999999999998" x2="269.8" y2="226.04999999999998" stroke="#1a1a1a" stroke-width="1"/>
<text x="0" y="0" font-size="7.7" text-anchor="end" class="tk" transform="translate(264.50,229.00) scale(0.89,1)">3</text>
<line x1="267.6" y1="200.5" x2="269.8" y2="200.5" stroke="#1a1a1a" stroke-width="1"/>
<text x="0" y="0" font-size="7.7" text-anchor="end" class="tk" transform="translate(264.50,203.45) scale(0.89,1)">4</text>
<line x1="268.40000000000003" y1="315.47499999999997" x2="269.8" y2="315.47499999999997" stroke="#222" stroke-width="0.9"/>
<line x1="268.40000000000003" y1="289.925" x2="269.8" y2="289.925" stroke="#222" stroke-width="0.9"/>
<line x1="268.40000000000003" y1="264.375" x2="269.8" y2="264.375" stroke="#222" stroke-width="0.9"/>
<line x1="268.40000000000003" y1="238.825" x2="269.8" y2="238.825" stroke="#222" stroke-width="0.9"/>
<line x1="268.40000000000003" y1="213.27499999999998" x2="269.8" y2="213.27499999999998" stroke="#222" stroke-width="0.9"/>
<text x="0" y="0" font-size="8.8" text-anchor="middle" transform="translate(248.7,248) rotate(-90)">Relative abundance (%)</text>
<line x1="281.5" y1="315" x2="281.5" y2="317.2" stroke="#222" stroke-width="0.9"/>
<text x="0" y="0" font-size="7.45" text-anchor="middle" transform="translate(282.8,326.1) rotate(-13)">BSH</text>
<line x1="303.5" y1="315" x2="303.5" y2="317.2" stroke="#222" stroke-width="0.9"/>
<text x="0" y="0" font-size="7.45" text-anchor="middle" transform="translate(304.8,326.1) rotate(-13)">BSL</text>
<line x1="326.1" y1="315" x2="326.1" y2="317.2" stroke="#222" stroke-width="0.9"/>
<text x="0" y="0" font-size="7.45" text-anchor="middle" transform="translate(327.40000000000003,326.1) rotate(-13)">BSH</text>
<line x1="348.3" y1="315" x2="348.3" y2="317.2" stroke="#222" stroke-width="0.9"/>
<text x="0" y="0" font-size="7.45" text-anchor="middle" transform="translate(349.6,326.1) rotate(-13)">BSL</text>
<line x1="370.7" y1="315" x2="370.7" y2="317.2" stroke="#222" stroke-width="0.9"/>
<text x="0" y="0" font-size="7.45" text-anchor="middle" transform="translate(372.0,326.1) rotate(-13)">BSH</text>
<line x1="393.1" y1="315" x2="393.1" y2="317.2" stroke="#222" stroke-width="0.9"/>
<text x="0" y="0" font-size="7.45" text-anchor="middle" transform="translate(394.40000000000003,326.1) rotate(-13)">BSL</text>
<line x1="415.4" y1="315" x2="415.4" y2="317.2" stroke="#222" stroke-width="0.9"/>
<text x="0" y="0" font-size="7.45" text-anchor="middle" transform="translate(416.7,326.1) rotate(-13)">BSH</text>
<line x1="437.8" y1="315" x2="437.8" y2="317.2" stroke="#222" stroke-width="0.9"/>
<text x="0" y="0" font-size="7.45" text-anchor="middle" transform="translate(439.1,326.1) rotate(-13)">BSL</text>
<text x="291" y="201.0" font-size="9.0" text-anchor="middle" class="fl">JD</text>
<text x="334.9" y="201.0" font-size="9.0" text-anchor="middle" class="fl">JF</text>
<text x="380.4" y="201.0" font-size="9.0" text-anchor="middle" class="fl">TX</text>
<text x="427.3" y="201.0" font-size="9.0" text-anchor="middle" class="fl">TZ</text>
<line x1="281.50" y1="267.1" x2="281.50" y2="277.4" class="w"/>
<line x1="277.76" y1="267.1" x2="285.24" y2="267.1" class="w"/>
<line x1="281.50" y1="284.8" x2="281.50" y2="286.6" class="w"/>
<line x1="277.76" y1="286.6" x2="285.24" y2="286.6" class="w"/>
<rect x="274.3" y="277.4" width="14.40" height="7.40" fill="#F7973A" class="b"/>
<line x1="274.3" y1="282.7" x2="288.7" y2="282.7" stroke="#2a1500" class="m"/>
<path d="M279.60,261.4L281.3,259.80L283.00,261.4L281.3,263.00Z" fill="#111"/>
<line x1="303.60" y1="244.6" x2="303.60" y2="251.0" class="w"/>
<line x1="299.86" y1="244.6" x2="307.34" y2="244.6" class="w"/>
<line x1="303.60" y1="263.0" x2="303.60" y2="277.6" class="w"/>
<line x1="299.86" y1="277.6" x2="307.34" y2="277.6" class="w"/>
<rect x="296.4" y="251.0" width="14.40" height="12.00" fill="#2856A8" class="b"/>
<line x1="296.4" y1="254.0" x2="310.8" y2="254.0" stroke="#0a1a40" class="m"/>
<line x1="326.10" y1="241.3" x2="326.10" y2="242.7" class="w"/>
<line x1="322.36" y1="241.3" x2="329.84" y2="241.3" class="w"/>
<line x1="326.10" y1="273.3" x2="326.10" y2="284.3" class="w"/>
<line x1="322.36" y1="284.3" x2="329.84" y2="284.3" class="w"/>
<rect x="318.9" y="242.7" width="14.40" height="30.60" fill="#F7973A" class="b"/>
<line x1="318.9" y1="252.6" x2="333.3" y2="252.6" stroke="#2a1500" class="m"/>
<line x1="348.30" y1="279.6" x2="348.30" y2="280.6" class="w"/>
<line x1="344.50" y1="280.6" x2="352.10" y2="280.6" class="w"/>
<rect x="341" y="268.3" width="14.60" height="11.30" fill="#2856A8" class="b"/>
<line x1="341" y1="279.0" x2="355.6" y2="279.0" stroke="#0a1a40" class="m"/>
<line x1="370.70" y1="274.8" x2="370.70" y2="276.3" class="w"/>
<line x1="366.90" y1="274.8" x2="374.50" y2="274.8" class="w"/>
<line x1="370.70" y1="287.6" x2="370.70" y2="290.3" class="w"/>
<line x1="366.90" y1="290.3" x2="374.50" y2="290.3" class="w"/>
<rect x="363.4" y="276.3" width="14.60" height="11.30" fill="#F7973A" class="b"/>
<line x1="363.4" y1="282.6" x2="378" y2="282.6" stroke="#2a1500" class="m"/>
<line x1="393.15" y1="253.2" x2="393.15" y2="265.4" class="w"/>
<line x1="389.33" y1="253.2" x2="396.97" y2="253.2" class="w"/>
<line x1="393.15" y1="278.8" x2="393.15" y2="290.3" class="w"/>
<line x1="389.33" y1="290.3" x2="396.97" y2="290.3" class="w"/>
<rect x="385.8" y="265.4" width="14.70" height="13.40" fill="#2856A8" class="b"/>
<line x1="385.8" y1="276.4" x2="400.5" y2="276.4" stroke="#0a1a40" class="m"/>
<line x1="415.40" y1="287" x2="415.40" y2="287.8" class="w"/>
<line x1="411.66" y1="287" x2="419.14" y2="287" class="w"/>
<line x1="415.40" y1="289.5" x2="415.40" y2="290" class="w"/>
<line x1="411.66" y1="290" x2="419.14" y2="290" class="w"/>
<rect x="408.2" y="287.8" width="14.40" height="1.70" fill="#F7973A" class="b"/>
<line x1="408.2" y1="288.6" x2="422.6" y2="288.6" stroke="#000" class="m"/>
<line x1="437.80" y1="295.3" x2="437.80" y2="297.5" class="w"/>
<line x1="434.06" y1="297.5" x2="441.54" y2="297.5" class="w"/>
<rect x="430.6" y="291.3" width="14.40" height="4.00" fill="#2856A8" class="b"/>
<line x1="430.6" y1="293" x2="445" y2="293" stroke="#0a1a40" class="m"/>
<path d="M435.90,280.6L437.6,279.00L439.30,280.6L437.6,282.20Z" fill="#111"/>
<circle cx="437.4" cy="196" r="1.3" fill="#000"/>
<polygon points="292.70,224.95 293.36,226.49 295.03,226.64 293.77,227.75 294.14,229.38 292.70,228.53 291.26,229.38 291.63,227.75 290.37,226.64 292.04,226.49" fill="#1a1a1a"/>
<rect x="502.8" y="186.7" width="181.49999999999994" height="129.90000000000003" fill="none" stroke="#222" stroke-width="1"/>
<line x1="548.3" y1="186.7" x2="548.3" y2="316.6" stroke="#333" stroke-width="1"/>
<line x1="591.7" y1="186.7" x2="591.7" y2="316.6" stroke="#333" stroke-width="1"/>
<line x1="637.3" y1="186.7" x2="637.3" y2="316.6" stroke="#333" stroke-width="1"/>
<line x1="500.6" y1="309.1" x2="502.8" y2="309.1" stroke="#1a1a1a" stroke-width="1"/>
<text x="500.1" y="311.8" font-size="7.3" text-anchor="end">0</text>
<line x1="500.6" y1="294.70000000000005" x2="502.8" y2="294.70000000000005" stroke="#1a1a1a" stroke-width="1"/>
<text x="500.1" y="297.40000000000003" font-size="7.3" text-anchor="end">2.0<tspan font-size="5.6" dx="0.2">×</tspan><tspan dx="0.2">10</tspan><tspan font-size="4.2" dy="-2.7">5</tspan></text>
<line x1="500.6" y1="280.3" x2="502.8" y2="280.3" stroke="#1a1a1a" stroke-width="1"/>
<text x="500.1" y="283.0" font-size="7.3" text-anchor="end">4.0<tspan font-size="5.6" dx="0.2">×</tspan><tspan dx="0.2">10</tspan><tspan font-size="4.2" dy="-2.7">5</tspan></text>
<line x1="500.6" y1="265.90000000000003" x2="502.8" y2="265.90000000000003" stroke="#1a1a1a" stroke-width="1"/>
<text x="500.1" y="268.6" font-size="7.3" text-anchor="end">6.0<tspan font-size="5.6" dx="0.2">×</tspan><tspan dx="0.2">10</tspan><tspan font-size="4.2" dy="-2.7">5</tspan></text>
<line x1="500.6" y1="251.50000000000003" x2="502.8" y2="251.50000000000003" stroke="#1a1a1a" stroke-width="1"/>
<text x="500.1" y="254.20000000000002" font-size="7.3" text-anchor="end">8.0<tspan font-size="5.6" dx="0.2">×</tspan><tspan dx="0.2">10</tspan><tspan font-size="4.2" dy="-2.7">5</tspan></text>
<line x1="500.6" y1="237.10000000000002" x2="502.8" y2="237.10000000000002" stroke="#1a1a1a" stroke-width="1"/>
<text x="500.1" y="239.8" font-size="7.3" text-anchor="end">1.0<tspan font-size="5.6" dx="0.2">×</tspan><tspan dx="0.2">10</tspan><tspan font-size="4.2" dy="-2.7">6</tspan></text>
<line x1="500.6" y1="222.70000000000002" x2="502.8" y2="222.70000000000002" stroke="#1a1a1a" stroke-width="1"/>
<text x="500.1" y="225.4" font-size="7.3" text-anchor="end">1.2<tspan font-size="5.6" dx="0.2">×</tspan><tspan dx="0.2">10</tspan><tspan font-size="4.2" dy="-2.7">6</tspan></text>
<line x1="500.6" y1="208.3" x2="502.8" y2="208.3" stroke="#1a1a1a" stroke-width="1"/>
<text x="500.1" y="211.0" font-size="7.3" text-anchor="end">1.4<tspan font-size="5.6" dx="0.2">×</tspan><tspan dx="0.2">10</tspan><tspan font-size="4.2" dy="-2.7">6</tspan></text>
<line x1="500.6" y1="193.90000000000003" x2="502.8" y2="193.90000000000003" stroke="#1a1a1a" stroke-width="1"/>
<text x="500.1" y="196.60000000000002" font-size="7.3" text-anchor="end">1.6<tspan font-size="5.6" dx="0.2">×</tspan><tspan dx="0.2">10</tspan><tspan font-size="4.2" dy="-2.7">6</tspan></text>
<line x1="501.40000000000003" y1="301.90000000000003" x2="502.8" y2="301.90000000000003" stroke="#222" stroke-width="0.9"/>
<line x1="501.40000000000003" y1="287.50000000000006" x2="502.8" y2="287.50000000000006" stroke="#222" stroke-width="0.9"/>
<line x1="501.40000000000003" y1="273.1" x2="502.8" y2="273.1" stroke="#222" stroke-width="0.9"/>
<line x1="501.40000000000003" y1="258.70000000000005" x2="502.8" y2="258.70000000000005" stroke="#222" stroke-width="0.9"/>
<line x1="501.40000000000003" y1="244.30000000000004" x2="502.8" y2="244.30000000000004" stroke="#222" stroke-width="0.9"/>
<line x1="501.40000000000003" y1="229.90000000000003" x2="502.8" y2="229.90000000000003" stroke="#222" stroke-width="0.9"/>
<line x1="501.40000000000003" y1="215.50000000000003" x2="502.8" y2="215.50000000000003" stroke="#222" stroke-width="0.9"/>
<line x1="501.40000000000003" y1="201.10000000000002" x2="502.8" y2="201.10000000000002" stroke="#222" stroke-width="0.9"/>
<line x1="501.40000000000003" y1="186.70000000000005" x2="502.8" y2="186.70000000000005" stroke="#222" stroke-width="0.9"/>
<text x="0" y="0" font-size="8.6" text-anchor="middle" transform="translate(465.6,246) rotate(-90)">Copies per gram of soil</text>
<line x1="515.3" y1="316.6" x2="515.3" y2="318.8" stroke="#222" stroke-width="0.9"/>
<text x="0" y="0" font-size="7.4" text-anchor="middle" transform="translate(516.0999999999999,328.6) rotate(-13)">BSH</text>
<line x1="538" y1="316.6" x2="538" y2="318.8" stroke="#222" stroke-width="0.9"/>
<text x="0" y="0" font-size="7.4" text-anchor="middle" transform="translate(538.8,328.6) rotate(-13)">BSL</text>
<line x1="559.8" y1="316.6" x2="559.8" y2="318.8" stroke="#222" stroke-width="0.9"/>
<text x="0" y="0" font-size="7.4" text-anchor="middle" transform="translate(560.5999999999999,328.6) rotate(-13)">BSH</text>
<line x1="582.4" y1="316.6" x2="582.4" y2="318.8" stroke="#222" stroke-width="0.9"/>
<text x="0" y="0" font-size="7.4" text-anchor="middle" transform="translate(583.1999999999999,328.6) rotate(-13)">BSL</text>
<line x1="605.1" y1="316.6" x2="605.1" y2="318.8" stroke="#222" stroke-width="0.9"/>
<text x="0" y="0" font-size="7.4" text-anchor="middle" transform="translate(605.9,328.6) rotate(-13)">BSH</text>
<line x1="627.8" y1="316.6" x2="627.8" y2="318.8" stroke="#222" stroke-width="0.9"/>
<text x="0" y="0" font-size="7.4" text-anchor="middle" transform="translate(628.5999999999999,328.6) rotate(-13)">BSL</text>
<line x1="650.7" y1="316.6" x2="650.7" y2="318.8" stroke="#222" stroke-width="0.9"/>
<text x="0" y="0" font-size="7.4" text-anchor="middle" transform="translate(651.5,328.6) rotate(-13)">BSH</text>
<line x1="673.3" y1="316.6" x2="673.3" y2="318.8" stroke="#222" stroke-width="0.9"/>
<text x="0" y="0" font-size="7.4" text-anchor="middle" transform="translate(674.0999999999999,328.6) rotate(-13)">BSL</text>
<text x="526" y="201.0" font-size="9.0" text-anchor="middle" class="fl">JD</text>
<text x="570" y="201.0" font-size="9.0" text-anchor="middle" class="fl">JF</text>
<text x="612.8" y="201.0" font-size="9.0" text-anchor="middle" class="fl">TX</text>
<text x="660.4" y="201.0" font-size="9.0" text-anchor="middle" class="fl">TZ</text>
<rect x="508.1" y="308.4" width="14.40" height="0.80" fill="#F7973A" stroke="#333" stroke-width="0.75"/>
<line x1="508.1" y1="308.8" x2="522.5" y2="308.8" stroke="#000" stroke-width="0.8" opacity="0.85"/>
<rect x="530.8" y="307.8" width="14.40" height="1.10" fill="#2856A8" stroke="#333" stroke-width="0.75"/>
<line x1="530.8" y1="308.3" x2="545.2" y2="308.3" stroke="#000" stroke-width="0.8" opacity="0.85"/>
<rect x="552.2" y="307.5" width="15.20" height="1.60" fill="#F7973A" stroke="#333" stroke-width="0.75"/>
<line x1="552.2" y1="308.3" x2="567.4" y2="308.3" stroke="#000" stroke-width="0.8" opacity="0.85"/>
<rect x="575.1" y="307.6" width="14.70" height="0.90" fill="#2856A8" stroke="#333" stroke-width="0.75"/>
<line x1="575.1" y1="308" x2="589.8" y2="308" stroke="#000" stroke-width="0.8" opacity="0.85"/>
<line x1="605.40" y1="296.6" x2="605.40" y2="298.6" class="w"/>
<line x1="601.55" y1="296.6" x2="609.25" y2="296.6" class="w"/>
<rect x="598.0" y="298.6" width="14.80" height="8.80" fill="#F7973A" class="b"/>
<line x1="598.0" y1="307.1" x2="612.8" y2="307.1" stroke="#2a1500" class="m"/>
<line x1="628.00" y1="305.2" x2="628.00" y2="305.7" class="w"/>
<line x1="624.15" y1="305.2" x2="631.85" y2="305.2" class="w"/>
<line x1="628.00" y1="307.4" x2="628.00" y2="308.1" class="w"/>
<line x1="624.15" y1="308.1" x2="631.85" y2="308.1" class="w"/>
<rect x="620.6" y="305.7" width="14.80" height="1.70" fill="#2856A8" class="b"/>
<line x1="620.6" y1="306.5" x2="635.4" y2="306.5" stroke="#000" class="m"/>
<rect x="643.5" y="288.0" width="14.50" height="5.40" fill="#F7973A" class="b"/>
<line x1="643.5" y1="289.3" x2="658.0" y2="289.3" stroke="#2a1500" class="m"/>
<line x1="673.35" y1="296.7" x2="673.35" y2="298.4" class="w"/>
<line x1="669.58" y1="296.7" x2="677.12" y2="296.7" class="w"/>
<line x1="673.35" y1="306.6" x2="673.35" y2="307.6" class="w"/>
<line x1="669.58" y1="307.6" x2="677.12" y2="307.6" class="w"/>
<rect x="666.1" y="298.4" width="14.50" height="8.20" fill="#2856A8" class="b"/>
<line x1="666.1" y1="302.5" x2="680.6" y2="302.5" stroke="#0a1a40" class="m"/>
<text x="213.3" y="353.0" font-size="10.2" text-anchor="middle" >Effects of GS on PCS severity</text>
<rect x="118.4" y="359.2" width="198.20000000000002" height="172.8" fill="none" stroke="#1a1a1a" stroke-width="1.25"/>
<rect x="118.4" y="362.40000000000003" width="180.55" height="27.4" fill="#4b4b4d" stroke="#222" stroke-width="0.9"/>
<line x1="115.2" y1="376.1" x2="118.4" y2="376.1" stroke="#111" stroke-width="1.1"/>
<text x="113.10000000000001" y="378.0" font-size="6.7" text-anchor="end" >GS_Bac_PCo1</text>
<rect x="118.4" y="397.1" width="66.24" height="27.4" fill="#6e6e71" stroke="#222" stroke-width="0.9"/>
<line x1="115.2" y1="410.8" x2="118.4" y2="410.8" stroke="#111" stroke-width="1.1"/>
<text x="113.10000000000001" y="412.7" font-size="6.7" text-anchor="end" >GS_BASV9</text>
<rect x="118.4" y="431.8" width="32.20" height="27.4" fill="#8b8b8e" stroke="#222" stroke-width="0.9"/>
<line x1="115.2" y1="445.5" x2="118.4" y2="445.5" stroke="#111" stroke-width="1.1"/>
<text x="113.10000000000001" y="447.4" font-size="6.7" text-anchor="end" >GS_txtAB</text>
<rect x="118.4" y="466.5" width="31.28" height="27.4" fill="#b1b1b4" stroke="#222" stroke-width="0.9"/>
<line x1="115.2" y1="480.2" x2="118.4" y2="480.2" stroke="#111" stroke-width="1.1"/>
<text x="113.10000000000001" y="482.09999999999997" font-size="6.7" text-anchor="end" >GS_Euk_PCo1</text>
<rect x="118.4" y="501.2" width="2.58" height="27.4" fill="#dcdcdc" stroke="#222" stroke-width="0.9"/>
<line x1="115.2" y1="514.9" x2="118.4" y2="514.9" stroke="#111" stroke-width="1.1"/>
<text x="113.10000000000001" y="516.8" font-size="6.7" text-anchor="end" >GS_Arc_PCo1</text>
<line x1="119.4" y1="393.4" x2="315.6" y2="393.4" stroke="#d0d0d0" stroke-width="0.6" stroke-dasharray="1.8,1.4"/>
<line x1="116.9" y1="393.4" x2="118.4" y2="393.4" stroke="#222" stroke-width="0.8"/>
<line x1="119.4" y1="428.1" x2="315.6" y2="428.1" stroke="#d0d0d0" stroke-width="0.6" stroke-dasharray="1.8,1.4"/>
<line x1="116.9" y1="428.1" x2="118.4" y2="428.1" stroke="#222" stroke-width="0.8"/>
<line x1="119.4" y1="462.8" x2="315.6" y2="462.8" stroke="#d0d0d0" stroke-width="0.6" stroke-dasharray="1.8,1.4"/>
<line x1="116.9" y1="462.8" x2="118.4" y2="462.8" stroke="#222" stroke-width="0.8"/>
<line x1="119.4" y1="497.5" x2="315.6" y2="497.5" stroke="#d0d0d0" stroke-width="0.6" stroke-dasharray="1.8,1.4"/>
<line x1="116.9" y1="497.5" x2="118.4" y2="497.5" stroke="#222" stroke-width="0.8"/>
<line x1="118.40" y1="532.0" x2="118.40" y2="535.3" stroke="#222" stroke-width="1"/>
<text x="0" y="0" font-size="7.2" text-anchor="middle" class="lt" transform="translate(118.40,543.6) scale(0.85,1)">0</text>
<line x1="123.00" y1="532.0" x2="123.00" y2="534.0" stroke="#222" stroke-width="0.9"/>
<line x1="127.60" y1="532.0" x2="127.60" y2="534.0" stroke="#222" stroke-width="0.9"/>
<line x1="132.20" y1="532.0" x2="132.20" y2="534.0" stroke="#222" stroke-width="0.9"/>
<line x1="136.80" y1="532.0" x2="136.80" y2="534.0" stroke="#222" stroke-width="0.9"/>
<line x1="141.40" y1="532.0" x2="141.40" y2="535.3" stroke="#222" stroke-width="1"/>
<text x="0" y="0" font-size="7.2" text-anchor="middle" class="lt" transform="translate(141.40,543.6) scale(0.85,1)">5</text>
<line x1="146.00" y1="532.0" x2="146.00" y2="534.0" stroke="#222" stroke-width="0.9"/>
<line x1="150.60" y1="532.0" x2="150.60" y2="534.0" stroke="#222" stroke-width="0.9"/>
<line x1="155.20" y1="532.0" x2="155.20" y2="534.0" stroke="#222" stroke-width="0.9"/>
<line x1="159.80" y1="532.0" x2="159.80" y2="534.0" stroke="#222" stroke-width="0.9"/>
<line x1="164.40" y1="532.0" x2="164.40" y2="535.3" stroke="#222" stroke-width="1"/>
<text x="0" y="0" font-size="7.2" text-anchor="middle" class="lt" transform="translate(164.40,543.6) scale(0.85,1)">10</text>
<line x1="169.00" y1="532.0" x2="169.00" y2="534.0" stroke="#222" stroke-width="0.9"/>
<line x1="173.60" y1="532.0" x2="173.60" y2="534.0" stroke="#222" stroke-width="0.9"/>
<line x1="178.20" y1="532.0" x2="178.20" y2="534.0" stroke="#222" stroke-width="0.9"/>
<line x1="182.80" y1="532.0" x2="182.80" y2="534.0" stroke="#222" stroke-width="0.9"/>
<line x1="187.40" y1="532.0" x2="187.40" y2="535.3" stroke="#222" stroke-width="1"/>
<text x="0" y="0" font-size="7.2" text-anchor="middle" class="lt" transform="translate(187.40,543.6) scale(0.85,1)">15</text>
<line x1="192.00" y1="532.0" x2="192.00" y2="534.0" stroke="#222" stroke-width="0.9"/>
<line x1="196.60" y1="532.0" x2="196.60" y2="534.0" stroke="#222" stroke-width="0.9"/>
<line x1="201.20" y1="532.0" x2="201.20" y2="534.0" stroke="#222" stroke-width="0.9"/>
<line x1="205.80" y1="532.0" x2="205.80" y2="534.0" stroke="#222" stroke-width="0.9"/>
<line x1="210.40" y1="532.0" x2="210.40" y2="535.3" stroke="#222" stroke-width="1"/>
<text x="0" y="0" font-size="7.2" text-anchor="middle" class="lt" transform="translate(210.40,543.6) scale(0.85,1)">20</text>
<line x1="215.00" y1="532.0" x2="215.00" y2="534.0" stroke="#222" stroke-width="0.9"/>
<line x1="219.60" y1="532.0" x2="219.60" y2="534.0" stroke="#222" stroke-width="0.9"/>
<line x1="224.20" y1="532.0" x2="224.20" y2="534.0" stroke="#222" stroke-width="0.9"/>
<line x1="228.80" y1="532.0" x2="228.80" y2="534.0" stroke="#222" stroke-width="0.9"/>
<line x1="233.40" y1="532.0" x2="233.40" y2="535.3" stroke="#222" stroke-width="1"/>
<text x="0" y="0" font-size="7.2" text-anchor="middle" class="lt" transform="translate(233.40,543.6) scale(0.85,1)">25</text>
<line x1="238.00" y1="532.0" x2="238.00" y2="534.0" stroke="#222" stroke-width="0.9"/>
<line x1="242.60" y1="532.0" x2="242.60" y2="534.0" stroke="#222" stroke-width="0.9"/>
<line x1="247.20" y1="532.0" x2="247.20" y2="534.0" stroke="#222" stroke-width="0.9"/>
<line x1="251.80" y1="532.0" x2="251.80" y2="534.0" stroke="#222" stroke-width="0.9"/>
<line x1="256.40" y1="532.0" x2="256.40" y2="535.3" stroke="#222" stroke-width="1"/>
<text x="0" y="0" font-size="7.2" text-anchor="middle" class="lt" transform="translate(256.40,543.6) scale(0.85,1)">30</text>
<line x1="261.00" y1="532.0" x2="261.00" y2="534.0" stroke="#222" stroke-width="0.9"/>
<line x1="265.60" y1="532.0" x2="265.60" y2="534.0" stroke="#222" stroke-width="0.9"/>
<line x1="270.20" y1="532.0" x2="270.20" y2="534.0" stroke="#222" stroke-width="0.9"/>
<line x1="274.80" y1="532.0" x2="274.80" y2="534.0" stroke="#222" stroke-width="0.9"/>
<line x1="279.40" y1="532.0" x2="279.40" y2="535.3" stroke="#222" stroke-width="1"/>
<text x="0" y="0" font-size="7.2" text-anchor="middle" class="lt" transform="translate(279.40,543.6) scale(0.85,1)">35</text>
<line x1="284.00" y1="532.0" x2="284.00" y2="534.0" stroke="#222" stroke-width="0.9"/>
<line x1="288.60" y1="532.0" x2="288.60" y2="534.0" stroke="#222" stroke-width="0.9"/>
<line x1="293.20" y1="532.0" x2="293.20" y2="534.0" stroke="#222" stroke-width="0.9"/>
<line x1="297.80" y1="532.0" x2="297.80" y2="534.0" stroke="#222" stroke-width="0.9"/>
<line x1="302.40" y1="532.0" x2="302.40" y2="535.3" stroke="#222" stroke-width="1"/>
<text x="0" y="0" font-size="7.2" text-anchor="middle" class="lt" transform="translate(302.40,543.6) scale(0.85,1)">40</text>
<line x1="307.00" y1="532.0" x2="307.00" y2="534.0" stroke="#222" stroke-width="0.9"/>
<line x1="311.60" y1="532.0" x2="311.60" y2="534.0" stroke="#222" stroke-width="0.9"/>
<line x1="316.20" y1="532.0" x2="316.20" y2="534.0" stroke="#222" stroke-width="0.9"/>
<text x="212.1" y="560.2" font-size="10.1" text-anchor="middle" class="lt">Total explanation = 68%</text>
<text x="544" y="354.6" font-size="10.15" text-anchor="middle" >Effects of BS on PCS severity</text>
<rect x="442.0" y="360.8" width="199.89999999999998" height="172.7" fill="none" stroke="#1a1a1a" stroke-width="1.25"/>
<rect x="442.0" y="363.0" width="181.76" height="23" fill="#232323" stroke="#222" stroke-width="0.9"/>
<line x1="438.8" y1="374.5" x2="442.0" y2="374.5" stroke="#111" stroke-width="1.1"/>
<text x="436.5" y="376.6" font-size="6.8" text-anchor="end" >BS_Bac_PCo1</text>
<rect x="442.0" y="392.1" width="83.16" height="23" fill="#4a4a4c" stroke="#222" stroke-width="0.9"/>
<line x1="438.8" y1="403.6" x2="442.0" y2="403.6" stroke="#111" stroke-width="1.1"/>
<text x="436.5" y="405.70000000000005" font-size="6.8" text-anchor="end" >BS_BASV9</text>
<rect x="442.0" y="421.0" width="75.88" height="23" fill="#6d6e72" stroke="#222" stroke-width="0.9"/>
<line x1="438.8" y1="432.5" x2="442.0" y2="432.5" stroke="#111" stroke-width="1.1"/>
<text x="436.5" y="434.6" font-size="6.8" text-anchor="end" >BS_Euk_PCo1</text>
<rect x="442.0" y="449.9" width="37.72" height="23" fill="#8e8e91" stroke="#222" stroke-width="0.9"/>
<line x1="438.8" y1="461.4" x2="442.0" y2="461.4" stroke="#111" stroke-width="1.1"/>
<text x="436.5" y="463.5" font-size="6.8" text-anchor="end" >BS_Arc_PCo1</text>
<rect x="442.0" y="478.8" width="1.70" height="23" fill="#333" stroke="#222" stroke-width="0.9"/>
<line x1="438.8" y1="490.3" x2="442.0" y2="490.3" stroke="#111" stroke-width="1.1"/>
<text x="436.5" y="492.40000000000003" font-size="6.8" text-anchor="end" >BS_txtAB</text>
<line x1="438.8" y1="519.2" x2="442.0" y2="519.2" stroke="#111" stroke-width="1.1"/>
<text x="436.5" y="521.3000000000001" font-size="6.8" text-anchor="end" >BS_Soil_PCo1</text>
<line x1="443.0" y1="389.3" x2="640.9" y2="389.3" stroke="#d0d0d0" stroke-width="0.6" stroke-dasharray="1.8,1.4"/>
<line x1="440.5" y1="389.3" x2="442.0" y2="389.3" stroke="#222" stroke-width="0.8"/>
<line x1="443.0" y1="418.1" x2="640.9" y2="418.1" stroke="#d0d0d0" stroke-width="0.6" stroke-dasharray="1.8,1.4"/>
<line x1="440.5" y1="418.1" x2="442.0" y2="418.1" stroke="#222" stroke-width="0.8"/>
<line x1="443.0" y1="446.9" x2="640.9" y2="446.9" stroke="#d0d0d0" stroke-width="0.6" stroke-dasharray="1.8,1.4"/>
<line x1="440.5" y1="446.9" x2="442.0" y2="446.9" stroke="#222" stroke-width="0.8"/>
<line x1="443.0" y1="475.8" x2="640.9" y2="475.8" stroke="#d0d0d0" stroke-width="0.6" stroke-dasharray="1.8,1.4"/>
<line x1="440.5" y1="475.8" x2="442.0" y2="475.8" stroke="#222" stroke-width="0.8"/>
<line x1="443.0" y1="504.7" x2="640.9" y2="504.7" stroke="#d0d0d0" stroke-width="0.6" stroke-dasharray="1.8,1.4"/>
<line x1="440.5" y1="504.7" x2="442.0" y2="504.7" stroke="#222" stroke-width="0.8"/>
<line x1="442.00" y1="533.5" x2="442.00" y2="536.8" stroke="#222" stroke-width="1"/>
<text x="0" y="0" font-size="7" text-anchor="middle" class="lt" transform="translate(442.00,544.7) scale(0.93,1)">0</text>
<line x1="447.68" y1="533.5" x2="447.68" y2="535.5" stroke="#222" stroke-width="0.9"/>
<line x1="453.36" y1="533.5" x2="453.36" y2="535.5" stroke="#222" stroke-width="0.9"/>
<line x1="459.04" y1="533.5" x2="459.04" y2="535.5" stroke="#222" stroke-width="0.9"/>
<line x1="464.72" y1="533.5" x2="464.72" y2="536.8" stroke="#222" stroke-width="1"/>
<text x="0" y="0" font-size="7" text-anchor="middle" class="lt" transform="translate(464.72,544.7) scale(0.93,1)">2</text>
<line x1="470.40" y1="533.5" x2="470.40" y2="535.5" stroke="#222" stroke-width="0.9"/>
<line x1="476.08" y1="533.5" x2="476.08" y2="535.5" stroke="#222" stroke-width="0.9"/>
<line x1="481.76" y1="533.5" x2="481.76" y2="535.5" stroke="#222" stroke-width="0.9"/>
<line x1="487.44" y1="533.5" x2="487.44" y2="536.8" stroke="#222" stroke-width="1"/>
<text x="0" y="0" font-size="7" text-anchor="middle" class="lt" transform="translate(487.44,544.7) scale(0.93,1)">4</text>
<line x1="493.12" y1="533.5" x2="493.12" y2="535.5" stroke="#222" stroke-width="0.9"/>
<line x1="498.80" y1="533.5" x2="498.80" y2="535.5" stroke="#222" stroke-width="0.9"/>
<line x1="504.48" y1="533.5" x2="504.48" y2="535.5" stroke="#222" stroke-width="0.9"/>
<line x1="510.16" y1="533.5" x2="510.16" y2="536.8" stroke="#222" stroke-width="1"/>
<text x="0" y="0" font-size="7" text-anchor="middle" class="lt" transform="translate(510.16,544.7) scale(0.93,1)">6</text>
<line x1="515.84" y1="533.5" x2="515.84" y2="535.5" stroke="#222" stroke-width="0.9"/>
<line x1="521.52" y1="533.5" x2="521.52" y2="535.5" stroke="#222" stroke-width="0.9"/>
<line x1="527.20" y1="533.5" x2="527.20" y2="535.5" stroke="#222" stroke-width="0.9"/>
<line x1="532.88" y1="533.5" x2="532.88" y2="536.8" stroke="#222" stroke-width="1"/>
<text x="0" y="0" font-size="7" text-anchor="middle" class="lt" transform="translate(532.88,544.7) scale(0.93,1)">8</text>
<line x1="538.56" y1="533.5" x2="538.56" y2="535.5" stroke="#222" stroke-width="0.9"/>
<line x1="544.24" y1="533.5" x2="544.24" y2="535.5" stroke="#222" stroke-width="0.9"/>
<line x1="549.92" y1="533.5" x2="549.92" y2="535.5" stroke="#222" stroke-width="0.9"/>
<line x1="555.60" y1="533.5" x2="555.60" y2="536.8" stroke="#222" stroke-width="1"/>
<text x="0" y="0" font-size="7" text-anchor="middle" class="lt" transform="translate(555.60,544.7) scale(0.93,1)">10</text>
<line x1="561.28" y1="533.5" x2="561.28" y2="535.5" stroke="#222" stroke-width="0.9"/>
<line x1="566.96" y1="533.5" x2="566.96" y2="535.5" stroke="#222" stroke-width="0.9"/>
<line x1="572.64" y1="533.5" x2="572.64" y2="535.5" stroke="#222" stroke-width="0.9"/>
<line x1="578.32" y1="533.5" x2="578.32" y2="536.8" stroke="#222" stroke-width="1"/>
<text x="0" y="0" font-size="7" text-anchor="middle" class="lt" transform="translate(578.32,544.7) scale(0.93,1)">12</text>
<line x1="584.00" y1="533.5" x2="584.00" y2="535.5" stroke="#222" stroke-width="0.9"/>
<line x1="589.68" y1="533.5" x2="589.68" y2="535.5" stroke="#222" stroke-width="0.9"/>
<line x1="595.36" y1="533.5" x2="595.36" y2="535.5" stroke="#222" stroke-width="0.9"/>
<line x1="601.04" y1="533.5" x2="601.04" y2="536.8" stroke="#222" stroke-width="1"/>
<text x="0" y="0" font-size="7" text-anchor="middle" class="lt" transform="translate(601.04,544.7) scale(0.93,1)">14</text>
<line x1="606.72" y1="533.5" x2="606.72" y2="535.5" stroke="#222" stroke-width="0.9"/>
<line x1="612.40" y1="533.5" x2="612.40" y2="535.5" stroke="#222" stroke-width="0.9"/>
<line x1="618.08" y1="533.5" x2="618.08" y2="535.5" stroke="#222" stroke-width="0.9"/>
<line x1="623.76" y1="533.5" x2="623.76" y2="536.8" stroke="#222" stroke-width="1"/>
<text x="0" y="0" font-size="7" text-anchor="middle" class="lt" transform="translate(623.76,544.7) scale(0.93,1)">16</text>
<line x1="629.44" y1="533.5" x2="629.44" y2="535.5" stroke="#222" stroke-width="0.9"/>
<line x1="635.12" y1="533.5" x2="635.12" y2="535.5" stroke="#222" stroke-width="0.9"/>
<line x1="640.80" y1="533.5" x2="640.80" y2="535.5" stroke="#222" stroke-width="0.9"/>
<text x="537.5" y="560.2" font-size="10.15" text-anchor="middle" class="lt">Total explanation = 33.4%</text>
</svg></body></html>
